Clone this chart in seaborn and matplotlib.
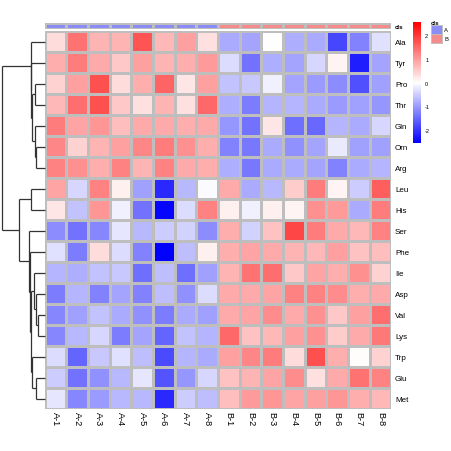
import matplotlib
matplotlib.use("Agg")
import matplotlib.pyplot as plt
import numpy as np
import pandas as pd
import seaborn as sns
from matplotlib.colors import ListedColormap
from matplotlib.patches import Patch


ROWS = ["Ala", "Tyr", "Pro", "Thr", "Gln", "Orn", "Arg", "Leu", "His",
        "Ser", "Phe", "Ile", "Asp", "Val", "Lys", "Trp", "Glu", "Met"]
COLS = [f"A-{i}" for i in range(1, 9)] + [f"B-{i}" for i in range(1, 9)]
GROUPS = ["A"] * 8 + ["B"] * 8

# scaled values, rows in dendrogram order
VALUES = [
    [0.35, 1.40, 0.75, 0.75, 1.70, 0.70, 0.95, 0.30, -0.85, -0.90, 0.00, -0.80, -0.85, -1.85, -1.25, -0.30],
    [0.80, 1.30, 0.85, 0.55, 0.95, 0.75, 0.80, 1.00, -0.35, -1.40, -0.80, -0.90, -0.40, 0.10, -2.25, -0.90],
    [0.45, 0.95, 1.75, 0.35, 0.80, 1.55, 0.25, 0.95, -0.60, -0.55, -0.15, -0.90, -1.00, -1.15, -1.75, -0.95],
    [0.70, 1.45, 1.75, 0.55, 0.30, 0.75, 0.30, 1.50, -0.80, -1.30, -0.75, -0.75, -0.85, -1.00, -0.95, -1.05],
    [1.30, 0.90, 1.05, 0.65, 0.85, 0.85, 0.80, 0.85, -1.05, -1.40, 0.25, -1.45, -1.50, -0.75, -0.85, -0.40],
    [1.20, 0.45, 0.75, 0.95, 1.20, 1.30, 1.10, 0.80, -1.25, -1.35, -0.85, -1.10, -0.90, -0.20, -0.95, -0.95],
    [1.25, 1.10, 0.80, 1.25, 0.75, 1.25, 0.85, 0.80, -0.80, -1.35, -0.85, -0.85, -0.90, -1.25, -0.85, -0.75],
    [0.90, -0.40, 1.25, 0.15, -0.95, -2.15, -0.70, -0.05, 0.85, -0.85, -0.70, 0.50, 1.30, 0.10, -0.50, 1.60],
    [0.25, -0.60, 1.05, -0.15, -1.40, -2.50, -0.35, 1.25, 0.15, -0.15, 0.15, 0.10, 1.10, 1.00, -0.85, 1.30],
    [-1.15, -1.40, -1.20, -0.25, -0.70, -0.50, -0.45, -1.15, 0.80, -0.45, 0.60, 1.85, 1.30, 0.85, 0.70, 1.25],
    [-0.30, -1.30, 0.35, -0.35, -1.25, -2.55, -0.65, 0.15, 0.80, 0.90, 0.85, 0.75, 0.70, 0.95, 0.60, 0.65],
    [-0.75, -0.80, -0.60, -0.55, -1.45, -0.65, -1.45, -0.95, 0.75, 1.40, 1.45, 0.55, 0.90, 0.80, 1.10, 0.45],
    [-1.30, -0.75, -1.25, -0.90, -1.25, -0.65, -1.10, -0.35, 0.85, 0.85, 0.90, 1.25, 1.25, 1.15, 0.80, 0.85],
    [-1.20, -0.95, -0.60, -0.85, -1.10, -1.30, -0.85, -0.95, 0.85, 0.90, 1.15, 0.85, 1.10, 0.55, 0.95, 1.45],
    [-1.20, -0.70, -0.40, -1.30, -0.90, -1.55, -0.60, -0.75, 1.50, 0.60, 0.70, 0.95, 1.10, 0.50, 0.85, 1.35],
    [-0.35, -1.55, -0.55, -0.30, -0.65, -1.80, -0.75, -0.85, 0.95, 1.20, 1.30, 0.35, 1.75, 0.80, 0.03, 0.45],
    [-0.50, -1.40, -1.10, -0.70, -0.25, -1.70, -1.05, -0.40, 0.60, 0.75, 0.90, 1.15, 0.30, 0.85, 1.40, 1.25],
    [-0.25, -1.20, -1.00, -0.70, -0.70, -2.15, -0.50, -0.65, 0.65, 1.00, 1.05, 0.90, 0.95, 1.05, 0.80, 0.70],
]

# row clustering: (left, right, height); ints refer to earlier merges
ROW_MERGES = [
    ("Orn", "Arg", 8.4),
    ("Gln", 0, 10.0),
    ("Pro", "Thr", 9.6),
    (2, 1, 12.4),
    ("Tyr", 3, 13.4),
    ("Ala", 4, 14.0),
    ("Val", "Lys", 6.7),
    ("Asp", 6, 9.0),
    ("Ile", 7, 10.7),
    ("Glu", "Met", 9.0),
    ("Trp", 9, 12.4),
    (8, 10, 14.0),
    ("Phe", 11, 15.0),
    ("Ser", 12, 15.7),
    ("Leu", "His", 14.0),
    (14, 13, 25.7),
    (5, 15, 42.7),
]

GROUP_COLORS = {"A": "#8C8CF5", "B": "#F58C8C"}
BORDER = "#BEBEBE"
W = H = 452


def frac(left, top, right, bottom):
    return [left / W, 1 - bottom / H, (right - left) / W, (bottom - top) / H]


def draw_dendrogram(ax, merges, leaves):
    pos = {name: i + 0.5 for i, name in enumerate(leaves)}
    height = {name: 0.0 for name in leaves}
    for k, (a, b, h) in enumerate(merges):
        for child in (a, b):
            ax.plot([height[child], h], [pos[child], pos[child]],
                    color="#333333", lw=0.9, clip_on=False, solid_capstyle="butt")
        ax.plot([h, h], [pos[a], pos[b]], color="#333333", lw=0.9,
                clip_on=False, solid_capstyle="butt")
        pos[k] = (pos[a] + pos[b]) / 2
        height[k] = h
    ax.set_xlim(merges[-1][2], 0)
    ax.set_ylim(len(leaves), 0)
    ax.axis("off")


def main():
    plt.rcParams["font.family"] = ["Liberation Sans", "DejaVu Sans"]
    plt.rcParams["axes.unicode_minus"] = False
    df = pd.DataFrame(VALUES, index=ROWS, columns=COLS)

    fig = plt.figure(figsize=(W / 100, H / 100), dpi=100)
    ax_heat = fig.add_axes(frac(44.7, 32, 391.3, 410))
    ax_ann = fig.add_axes(frac(44.7, 24, 391.3, 30))
    ax_den = fig.add_axes(frac(2, 32, 44.7, 410))
    ax_cbar = fig.add_axes(frac(413, 23.3, 421, 144))

    sns.heatmap(df, ax=ax_heat, cmap="bwr", vmin=-2.55, vmax=2.55,
                linewidths=0.8, linecolor=BORDER, cbar_ax=ax_cbar)
    ax_heat.yaxis.tick_right()
    ax_heat.set_yticks(np.arange(len(ROWS)) + 0.5)
    ax_heat.set_yticklabels(ROWS, rotation=0, fontsize=5.8)
    ax_heat.set_xticks(np.arange(len(COLS)) + 0.5)
    ax_heat.set_xticklabels(COLS, rotation=270, fontsize=6.6)
    ax_heat.tick_params(axis="y", length=0, pad=2.6)
    ax_heat.tick_params(axis="x", length=0, pad=1.5)
    ax_heat.set_xlabel("")
    ax_heat.set_ylabel("")

    cbar = ax_heat.collections[0].colorbar
    cbar.outline.set_visible(False)
    cbar.set_ticks([-2, -1, 0, 1, 2])
    cbar.ax.tick_params(length=0, labelsize=4.0, pad=3)

    codes = pd.DataFrame([[0 if g == "A" else 1 for g in GROUPS]],
                         index=["cls"], columns=COLS)
    sns.heatmap(codes, ax=ax_ann, cmap=ListedColormap([GROUP_COLORS["A"], GROUP_COLORS["B"]]),
                vmin=0, vmax=1, cbar=False, linewidths=0.8, linecolor=BORDER)
    ax_ann.set_xticks([])
    ax_ann.yaxis.tick_right()
    ax_ann.set_yticks([0.5])
    ax_ann.set_yticklabels(["cls"], rotation=0, fontsize=4.4, fontweight="bold")
    ax_ann.tick_params(axis="y", length=0, pad=2.6)
    ax_ann.set_xlabel("")
    ax_ann.set_ylabel("")

    draw_dendrogram(ax_den, ROW_MERGES, ROWS)

    handles = [Patch(facecolor=GROUP_COLORS[g], edgecolor=BORDER, lw=0.6) for g in ["A", "B"]]
    fig.legend(handles, ["A", "B"], title="cls", loc="upper left",
               bbox_to_anchor=(431 / W, 1 - 21 / H), frameon=False,
               fontsize=4.2, title_fontproperties={"weight": "bold", "size": 4.4},
               handlelength=1.9, handleheight=1.9, labelspacing=0.05,
               handletextpad=0.4, borderaxespad=0, borderpad=0, alignment="left")

    fig.savefig("out.png", dpi=100)


if __name__ == "__main__":
    main()
